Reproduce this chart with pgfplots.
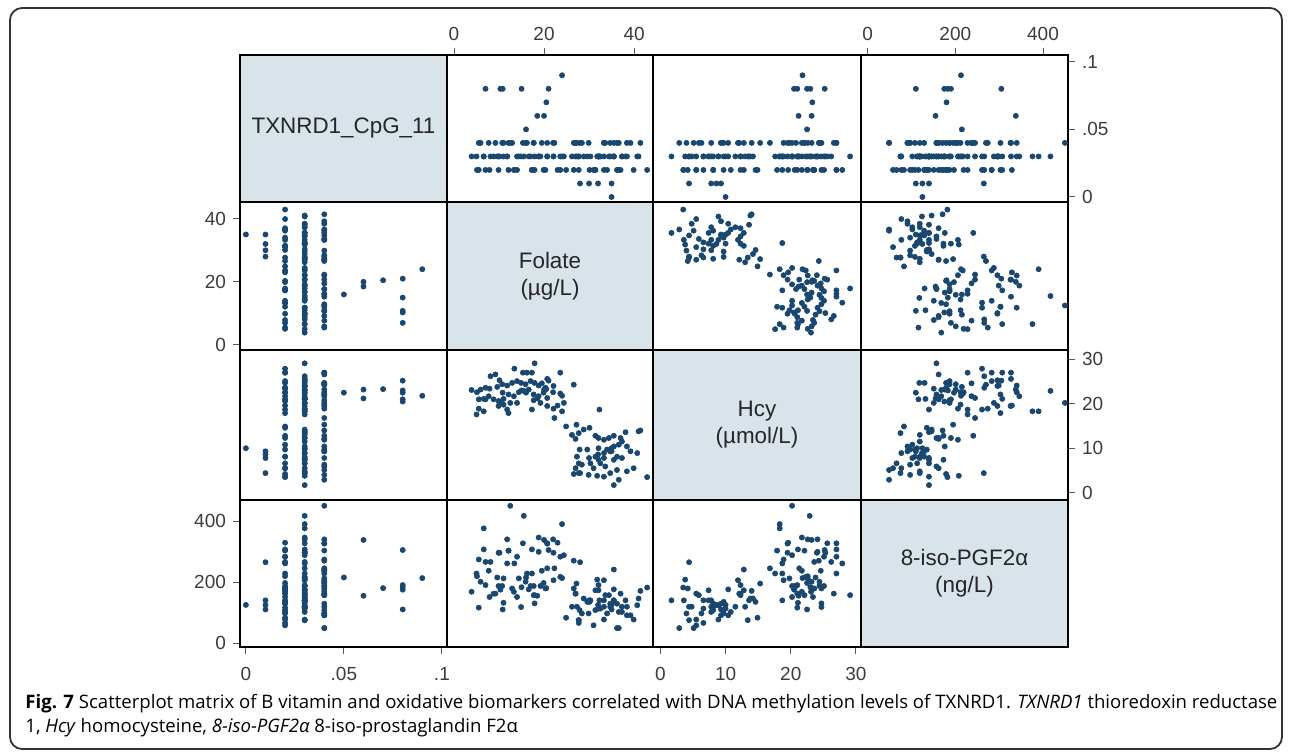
\documentclass[border=0pt]{standalone}
\usepackage{fontspec}
\setmainfont{Liberation Sans}
\newfontfamily\capfont{Open Sans}
\usepackage{pgfplots}
\pgfplotsset{compat=1.18}
\usepackage{pgfplotstable}

\definecolor{stnavy}{RGB}{26,71,111}
\definecolor{diagfill}{RGB}{216,227,234}
\definecolor{labgray}{RGB}{60,60,60}
\definecolor{capgray}{RGB}{35,31,32}

\pgfplotstableread{
t f h p
0.00 35.0 10.0 125
0.01 28.0 4.4 265
0.01 30.0 7.8 140
0.01 32.0 8.6 125
0.01 35.0 9.3 110
0.05 16.0 22.5 215
0.06 18.5 21.2 155
0.06 20.0 23.2 338
0.07 20.5 23.3 180
0.08 7.0 21.0 190
0.08 10.3 20.5 175
0.08 10.8 22.5 110
0.08 15.0 23.0 183
0.08 21.0 25.2 305
0.09 24.0 21.8 213
0.03 17.9 29.1 157
0.02 13.4 27.9 261
0.04 15.3 27.0 327
0.04 16.2 27.0 228
0.02 17.3 27.0 307
0.03 8.1 26.2 266
0.04 9.2 26.6 162
0.03 10.1 25.3 296
0.02 23.6 27.0 283
0.03 20.7 25.6 327
0.04 26.6 24.3 270
0.03 3.9 23.1 168
0.02 5.1 22.6 219
0.04 5.9 23.2 201
0.02 7.0 23.6 266
0.02 7.9 23.4 151
0.03 9.6 23.8 215
0.04 10.7 24.4 187
0.03 11.8 24.1 340
0.04 12.9 24.7 179
0.02 14.0 25.1 283
0.03 14.9 24.7 118
0.04 15.9 24.4 201
0.03 17.0 25.1 187
0.02 17.9 24.7 130
0.03 18.8 24.1 299
0.04 19.5 24.6 237
0.02 20.3 23.6 179
0.03 22.1 24.0 296
0.04 22.0 22.6 340
0.03 23.6 22.3 217
0.02 5.5 21.0 116
0.03 6.6 21.1 307
0.04 7.7 21.7 237
0.03 8.8 21.0 162
0.02 9.9 20.6 187
0.03 11.0 21.1 132
0.04 12.1 22.1 303
0.02 13.3 21.7 168
0.03 14.4 22.6 212
0.03 15.5 22.9 417
0.03 16.6 23.2 176
0.04 17.7 22.1 157
0.03 18.8 21.7 346
0.02 19.9 22.5 197
0.03 20.7 21.3 245
0.04 17.7 20.8 187
0.03 14.0 20.2 151
0.04 12.5 20.2 450
0.03 9.9 19.5 296
0.04 11.0 19.8 212
0.03 11.8 18.7 261
0.02 12.1 17.9 303
0.03 6.6 18.3 376
0.04 5.5 18.9 274
0.03 5.0 17.6 228
0.02 17.3 18.7 228
0.03 19.2 20.2 187
0.04 20.7 19.5 326
0.03 22.1 18.9 206
0.02 23.0 19.6 329
0.03 24.4 20.2 288
0.04 22.3 16.8 245
0.03 24.0 18.3 390
0.03 32.3 18.7 140
0.02 24.9 14.9 83
0.04 27.2 15.3 195
0.03 28.8 14.2 146
0.02 30.1 14.6 135
0.03 26.2 13.0 119
0.04 27.0 12.1 162
0.03 27.7 13.4 75
0.02 31.4 12.8 173
0.03 32.1 12.3 190
0.04 33.3 11.9 206
0.03 34.4 12.3 157
0.04 35.5 12.8 241
0.02 37.0 12.3 162
0.03 38.1 13.6 140
0.04 41.4 14.0 171
0.03 41.0 13.8 146
0.02 36.6 10.8 102
0.03 37.3 11.5 119
0.04 38.4 10.4 91
0.03 35.5 10.4 176
0.02 34.0 9.7 97
0.03 33.3 8.9 77
0.04 34.7 9.3 129
0.03 32.1 10.0 113
0.02 31.4 8.1 108
0.03 29.6 9.7 135
0.04 27.9 9.7 108
0.03 27.3 8.1 119
0.02 27.7 6.6 66
0.03 27.0 5.5 162
0.04 28.4 6.3 97
0.03 30.3 6.6 140
0.02 31.0 5.5 58
0.03 32.5 6.6 113
0.04 33.6 5.9 157
0.03 35.5 7.4 140
0.02 36.2 8.1 129
0.03 37.3 7.8 102
0.04 39.2 9.3 91
0.03 40.7 8.9 124
0.02 39.9 5.5 77
0.03 38.4 4.8 119
0.04 36.2 5.1 49
0.03 34.7 4.4 119
0.02 33.3 3.6 140
0.03 31.8 3.8 208
0.04 29.9 4.0 97
0.03 27.7 4.4 75
0.02 26.6 4.2 179
0.03 35.5 1.7 140
0.04 36.6 2.9 49
0.02 42.9 3.5 182
0.03 32.1 7.4 173
0.04 33.3 7.8 119
}\data

\tikzset{dlab/.style={align=center, font=\fontsize{11.2}{13.5}\selectfont, text=black!85}}

\pgfplotsset{
  cell/.style={scale only axis, anchor=north west,
    axis line style={line width=1pt, black},
    xtick=\empty, ytick=\empty, tick align=outside,
    major tick length=3.5pt,
    tick style={line width=0.5pt, gray!70!black},
    ticklabel style={font=\fontsize{9.5}{11}\selectfont, text=labgray},
    clip=true, axis on top},
  diag/.style={cell, xmin=0,xmax=1,ymin=0,ymax=1,
    axis background/.style={fill=diagfill}},
  xT/.style={xmin=-0.003,xmax=0.1026},
  yT/.style={ymin=-0.0037,ymax=0.105},
  xF/.style={xmin=-1.56,xmax=44.2},
  yF/.style={ymin=-1.6,ymax=45.3},
  xH/.style={xmin=-1.13,xmax=30.77},
  yH/.style={ymin=-1.65,ymax=32.1},
  xP/.style={xmin=-15,xmax=457},
  yP/.style={ymin=-13,ymax=469},
  dots/.style={only marks, mark=*, mark size=1.3pt, color=stnavy,
    mark options={draw=stnavy, fill=stnavy, line width=0.3pt}},
  botlab/.style={xticklabel style={yshift=-3pt}},
}

\newsavebox\capA
\newsavebox\capB

\begin{document}
\sbox\capA{\capfont\fontsize{9}{11}\selectfont\textbf{Fig. 7} Scatterplot matrix of B vitamin and oxidative biomarkers correlated with DNA methylation levels of TXNRD1. \textit{TXNRD1} thioredoxin reductase}%
\sbox\capB{\capfont\fontsize{9}{11}\selectfont 1, \textit{Hcy} homocysteine, \textit{8-iso-PGF2α} 8-iso-prostaglandin F2α}%
\pgfmathsetmacro\capscale{626/\the\wd\capA}%
\begin{tikzpicture}
\path[use as bounding box] (0pt,0pt) rectangle (646pt,375.5pt);
\draw[line width=0.9pt, black!80, rounded corners=6pt] (5pt,1pt) rectangle (641pt,371.5pt);

% ---------- Row 1 ----------
\begin{axis}[diag, at={(120pt,348pt)}, width=103.5pt, height=73.5pt]
\node[dlab] at (rel axis cs:0.5,0.5) {TXNRD1\_CpG\_11};
\end{axis}
\begin{axis}[cell, xF, yT, at={(223.5pt,348pt)}, width=103pt, height=73.5pt,
  xtick={0,20,40}, xticklabels={0,20,40}, xtick pos=right, xticklabel pos=right]
\addplot[dots] table[x=f, y=t] {\data};
\end{axis}
\begin{axis}[cell, xH, yT, at={(326.5pt,348pt)}, width=104pt, height=73.5pt]
\addplot[dots] table[x=h, y=t] {\data};
\end{axis}
\begin{axis}[cell, xP, yT, at={(430.5pt,348pt)}, width=103.5pt, height=73.5pt,
  xtick={0,200,400}, xticklabels={0,200,400}, xtick pos=right, xticklabel pos=right,
  ytick={0,0.05,0.1}, yticklabels={0,.05,.1}, ytick pos=right, yticklabel pos=right]
\addplot[dots] table[x=p, y=t] {\data};
\end{axis}

% ---------- Row 2 ----------
\begin{axis}[cell, xT, yF, at={(120pt,274.5pt)}, width=103.5pt, height=74pt,
  ytick={0,20,40}, yticklabels={0,20,40}, ytick pos=left, yticklabel pos=left]
\addplot[dots] table[x=t, y=f] {\data};
\end{axis}
\begin{axis}[diag, at={(223.5pt,274.5pt)}, width=103pt, height=74pt]
\node[dlab] at (rel axis cs:0.5,0.5) {Folate\\(µg/L)};
\end{axis}
\begin{axis}[cell, xH, yF, at={(326.5pt,274.5pt)}, width=104pt, height=74pt]
\addplot[dots] table[x=h, y=f] {\data};
\end{axis}
\begin{axis}[cell, xP, yF, at={(430.5pt,274.5pt)}, width=103.5pt, height=74pt]
\addplot[dots] table[x=p, y=f] {\data};
\end{axis}

% ---------- Row 3 ----------
\begin{axis}[cell, xT, yH, at={(120pt,200.5pt)}, width=103.5pt, height=75pt]
\addplot[dots] table[x=t, y=h] {\data};
\end{axis}
\begin{axis}[cell, xF, yH, at={(223.5pt,200.5pt)}, width=103pt, height=75pt]
\addplot[dots] table[x=f, y=h] {\data};
\end{axis}
\begin{axis}[diag, at={(326.5pt,200.5pt)}, width=104pt, height=75pt]
\node[dlab] at (rel axis cs:0.5,0.5) {Hcy\\(µmol/L)};
\end{axis}
\begin{axis}[cell, xP, yH, at={(430.5pt,200.5pt)}, width=103.5pt, height=75pt,
  ytick={0,10,20,30}, yticklabels={0,10,20,30}, ytick pos=right, yticklabel pos=right]
\addplot[dots] table[x=p, y=h] {\data};
\end{axis}

% ---------- Row 4 ----------
\begin{axis}[cell, botlab, xT, yP, at={(120pt,125.5pt)}, width=103.5pt, height=73.5pt,
  ytick={0,200,400}, yticklabels={0,200,400}, ytick pos=left, yticklabel pos=left,
  xtick={0,0.05,0.1}, xticklabels={0,.05,.1}, xtick pos=left, xticklabel pos=left]
\addplot[dots] table[x=t, y=p] {\data};
\end{axis}
\begin{axis}[cell, xF, yP, at={(223.5pt,125.5pt)}, width=103pt, height=73.5pt]
\addplot[dots] table[x=f, y=p] {\data};
\end{axis}
\begin{axis}[cell, botlab, xH, yP, at={(326.5pt,125.5pt)}, width=104pt, height=73.5pt,
  xtick={0,10,20,30}, xticklabels={0,10,20,30}, xtick pos=left, xticklabel pos=left]
\addplot[dots] table[x=h, y=p] {\data};
\end{axis}
\begin{axis}[diag, at={(430.5pt,125.5pt)}, width=103.5pt, height=73.5pt]
\node[dlab] at (rel axis cs:0.5,0.5) {8-iso-PGF2α\\(ng/L)};
\end{axis}

% ---------- Caption ----------
\node[anchor=base west, inner sep=0pt, text=capgray] at (12.5pt,21.5pt)
  {\scalebox{\capscale}{\usebox\capA}};
\node[anchor=base west, inner sep=0pt, text=capgray] at (12.5pt,9.5pt)
  {\scalebox{\capscale}{\usebox\capB}};
\end{tikzpicture}
\end{document}
